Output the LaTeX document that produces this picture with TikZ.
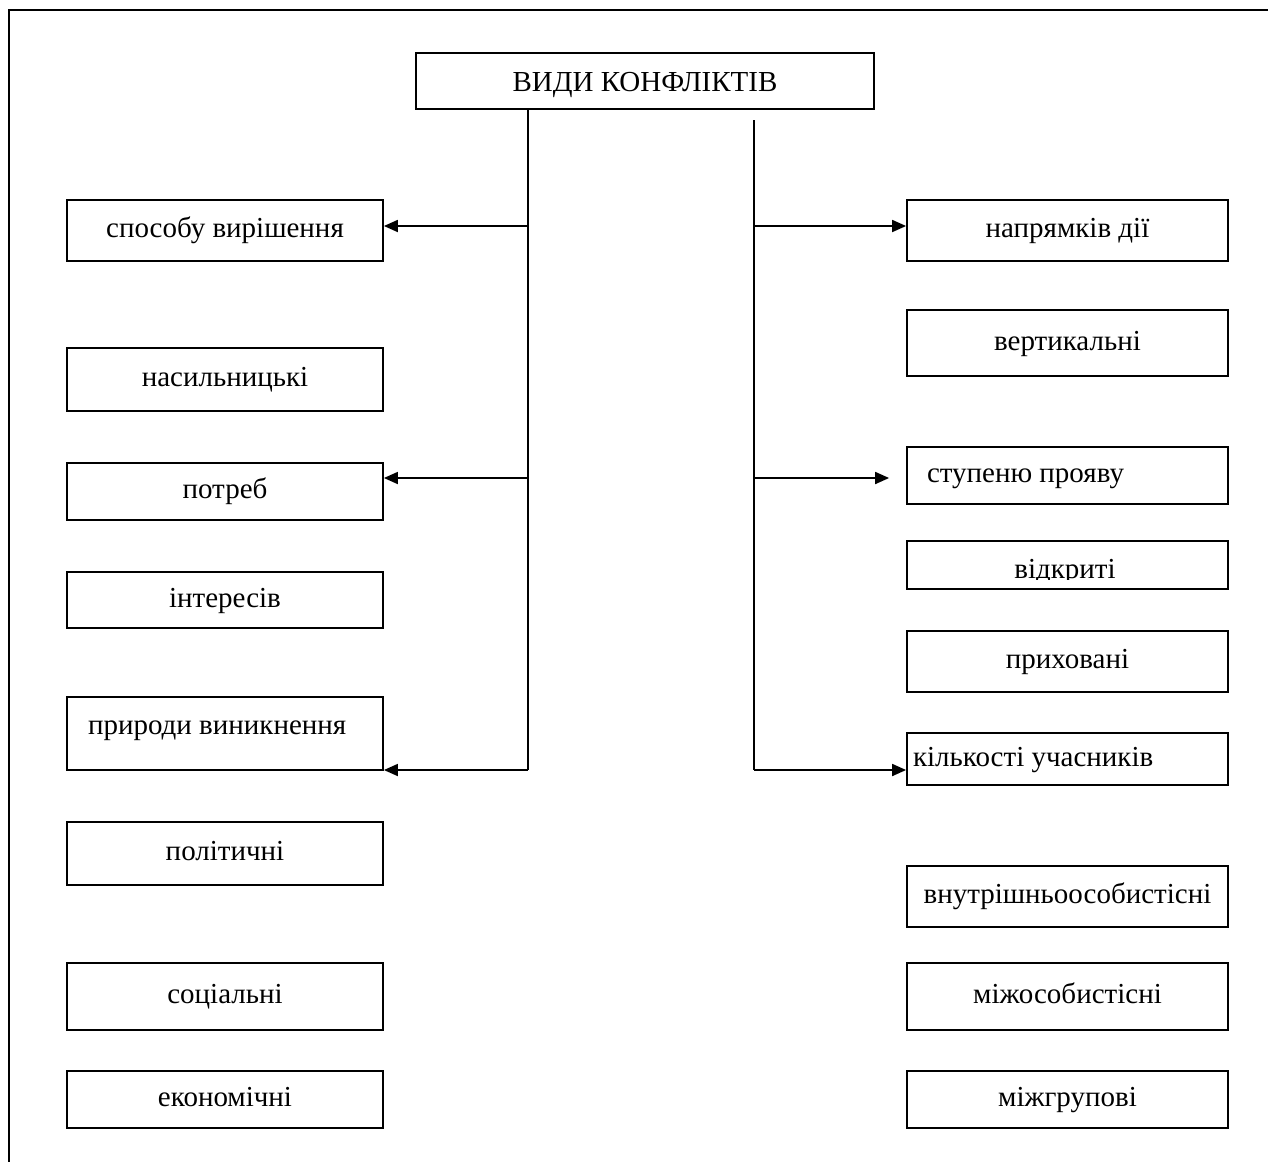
\documentclass[tikz,border=0pt]{standalone}
\usepackage{fontspec}
\setmainfont{Liberation Serif}
\usetikzlibrary{arrows.meta}

\begin{document}
\begin{tikzpicture}[x=0.5pt, y=-0.5pt,
  txt/.style={font=\fontsize{14.5}{17}\selectfont},
  box/.style={draw, txt, line width=0.9pt, minimum width=158pt, inner sep=0pt,
    text height=7pt, text depth=0pt},
  rbox/.style={box, minimum width=160.5pt},
  arr/.style={line width=0.9pt, -{Triangle[length=7pt,width=6pt]}}]
\useasboundingbox (0,0) rectangle (1268,1162);
% Frame
\draw[line width=1.2pt] (1268,10) -- (9,10) -- (9,1162);

% Title
\node[box, minimum width=229pt, minimum height=28pt, text height=10pt] (title) at (645,81) {ВИДИ КОНФЛІКТІВ};

% Left column
\node[box, minimum height=30.5pt] (lsposib) at (225,230.5) {способу вирішення};
\node[box, minimum height=31.5pt] (lnasyl) at (225,379.5) {насильницькі};
\node[box, minimum height=28.5pt] (lpotreb) at (225,491.5) {потреб};
\node[box, minimum height=28pt] (linter) at (225,600) {інтересів};
\node[box, minimum height=36.5pt, text width=137pt, inner xsep=10.5pt, align=flush left, text depth=6pt] (lpryrod) at (225,733.5) {природи виникнення};
\node[box, minimum height=31.5pt] (lpolit) at (225,853.5) {політичні};
\node[box, minimum height=33.5pt] (lsocial) at (225,996.5) {соціальні};
\node[box, minimum height=28.5pt] (lekonom) at (225,1099.5) {економічні};

% Right column
\node[rbox, minimum height=30.5pt] (rnapr) at (1067.5,230.5) {напрямків дії};
\node[rbox, minimum height=33pt] (rvert) at (1067.5,343) {вертикальні};
\node[rbox, minimum height=28.5pt, text width=140.5pt, inner xsep=10pt, align=flush left] (rstup) at (1067.5,475.5) {ступеню прояву};
\node[rbox, minimum height=24pt] (rvidkr) at (1067.5,565) {};
\node[rbox, minimum height=30.5pt] (rpryh) at (1067.5,661.5) {приховані};
\node[rbox, minimum height=26pt, text width=154.5pt, inner xsep=3pt, align=flush left] (rkilk) at (1067.5,759) {кількості учасників};
\node[rbox, minimum height=30.5pt] (rvnutr) at (1067.5,896.5) {внутрішньоособистісні};
\node[rbox, minimum height=33.5pt] (rmizhos) at (1067.5,996.5) {міжособистісні};
\node[rbox, minimum height=28.5pt] (rmizhgr) at (1067.5,1099.5) {міжгрупові};

% cut-off text
\begin{scope}
\clip (rvidkr.north west) rectangle (rvidkr.east |- 0,579);
\node[txt, anchor=base, inner sep=0pt] (tvidkr) at (1065,578) {відкриті};
\end{scope}

% Trunks
\coordinate (ltrunk) at (528,770);
\coordinate (rtop) at (754,120);
\coordinate (rtrunk) at (754,770);
\draw[line width=0.9pt] (title.south -| ltrunk) -- (ltrunk);
\draw[line width=0.9pt] (rtop) -- (rtrunk);

% Arrows
\coordinate (l1) at (528,226);
\coordinate (l2) at (528,478);
\draw[arr] (l1) -- (l1 -| lsposib.east);
\draw[arr] (l2) -- (l2 -| lpotreb.east);
\draw[arr] (ltrunk) -- (ltrunk -| lpryrod.east);
\coordinate (r1) at (754,226);
\coordinate (r2) at (754,478);
\draw[arr] (r1) -- (r1 -| rnapr.west);
\draw[arr, shorten >=8.5pt] (r2) -- (r2 -| rstup.west);
\draw[arr] (rtrunk) -- (rtrunk -| rkilk.west);
\end{tikzpicture}
\end{document}
